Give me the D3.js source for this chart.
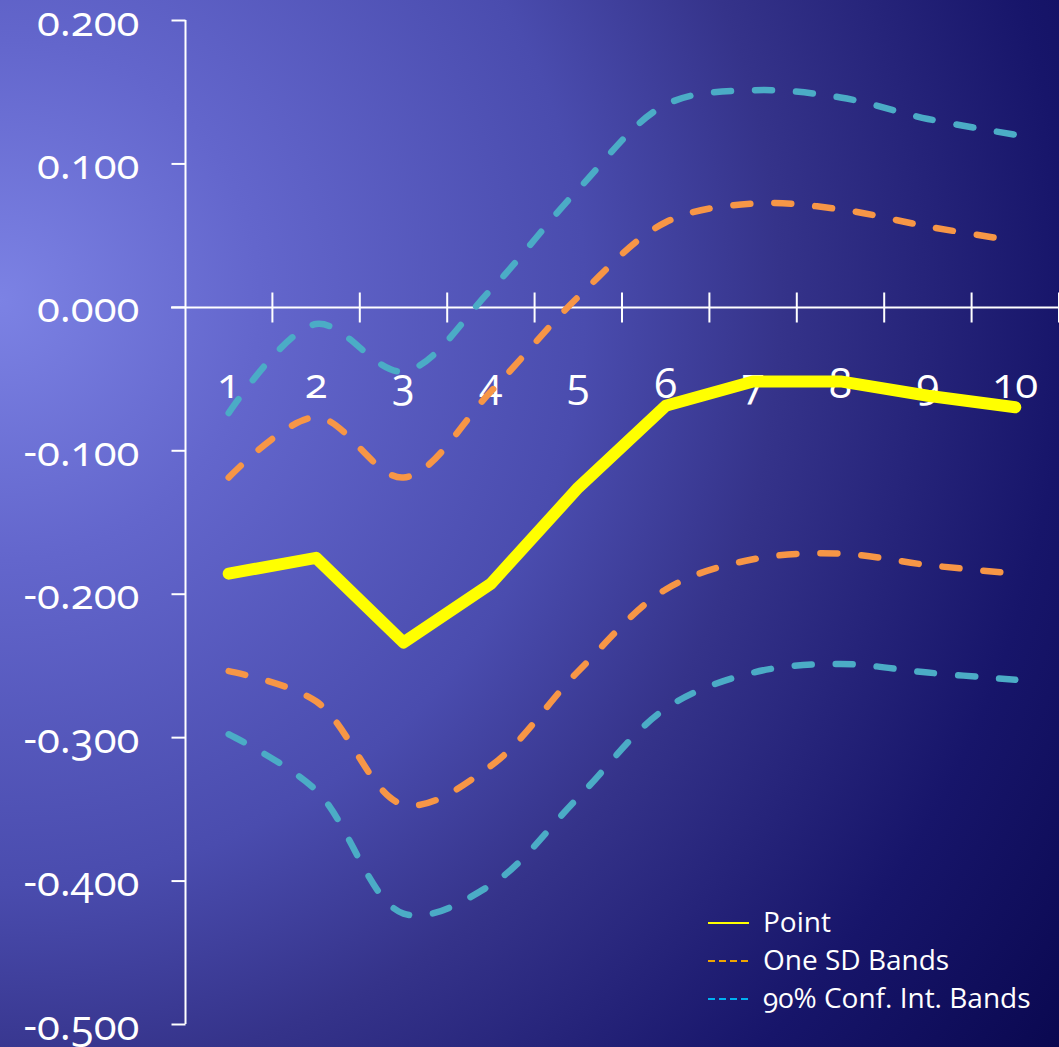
<!DOCTYPE html>
<html>
<head>
<meta charset="utf-8">
<script src="https://cdn.jsdelivr.net/npm/d3@7"></script>
<style>
  html, body { margin: 0; padding: 0; background: #0a0850; }
  svg { display: block; }
  text { font-family: "Open Sans", "Noto Sans", sans-serif; font-feature-settings: "onum" 1; font-variant-numeric: oldstyle-nums; fill: #ffffff; }
</style>
</head>
<body>
<svg id="chart" width="1059" height="1047"></svg>
<script>
// Horizon (periods) and the impulse response with its bands
const periods = ["1", "2", "3", "4", "5", "6", "7", "8", "9", "10"];
const point   = [-0.186, -0.175, -0.234, -0.193, -0.126, -0.069, -0.052, -0.052, -0.062, -0.070];
const sdUpper = [-0.119, -0.077, -0.119, -0.059, 0.007, 0.059, 0.072, 0.068, 0.056, 0.046];
const sdLower = [-0.254, -0.275, -0.347, -0.320, -0.254, -0.197, -0.176, -0.172, -0.180, -0.186];
const ciUpper = [-0.074, -0.012, -0.045, 0.012, 0.082, 0.141, 0.151, 0.146, 0.131, 0.120];
const ciLower = [-0.298, -0.337, -0.423, -0.403, -0.342, -0.280, -0.255, -0.249, -0.255, -0.260];
const yTicks  = [0.2, 0.1, 0.0, -0.1, -0.2, -0.3, -0.4, -0.5];
const legendItems = ["Point", "One SD Bands", "90% Conf. Int. Bands"];

const svg = d3.select("#chart");
const W = 1059, H = 1047;

// Background: radial glow from the left edge fading to deep navy
const defs = svg.append("defs");
const grad = defs.append("radialGradient")
  .attr("id", "bg").attr("gradientUnits", "userSpaceOnUse")
  .attr("cx", 0).attr("cy", 300).attr("r", 1300);
[[0, "#7c82e4"], [0.2, "#6366cc"], [0.45, "#4a4cae"], [0.6, "#35338a"], [0.82, "#17156a"], [1, "#0a0850"]]
  .forEach(([o, c]) => grad.append("stop").attr("offset", o).attr("stop-color", c));
svg.append("rect").attr("width", W).attr("height", H).attr("fill", "url(#bg)");

const x = d3.scaleBand().domain(periods).range([185, 1059]).padding(0);
const y = d3.scaleLinear().domain([-0.5, 0.2]).range([1024, 20]);
const cx = p => x(p) + x.bandwidth() / 2;

// Y axis
const yAxis = svg.append("g").attr("transform", "translate(185.5,0)")
  .call(d3.axisLeft(y).tickValues(yTicks).tickFormat(d => d.toFixed(3)).tickSize(14).tickPadding(32));
yAxis.select(".domain").attr("stroke", "#ffffff").attr("stroke-width", 2)
  .attr("d", `M0,${y(0.2)}V${y(-0.5)}`);
yAxis.selectAll(".tick line").attr("stroke", "#ffffff").attr("stroke-width", 2);
yAxis.selectAll(".tick text").attr("font-size", 42).attr("dy", "0.36em").attr("fill", "#ffffff");

// X axis along zero with crossing ticks at period boundaries
const zeroY = Math.round(y(0)) + 0.5;
svg.append("line").attr("x1", 171).attr("x2", W).attr("y1", zeroY).attr("y2", zeroY)
  .attr("stroke", "#ffffff").attr("stroke-width", 2);
svg.append("g").selectAll("line").data(periods).join("line")
  .attr("x1", p => x(p) + x.step()).attr("x2", p => x(p) + x.step())
  .attr("y1", zeroY - 15).attr("y2", zeroY + 15)
  .attr("stroke", "#ffffff").attr("stroke-width", 2);
svg.append("g").selectAll("text").data(periods).join("text")
  .attr("x", p => cx(p)).attr("y", zeroY + 90)
  .attr("text-anchor", "middle").attr("font-size", 42)
  .text(p => p);

// Series
const smooth = d3.line().x((d, i) => cx(periods[i])).y(d => y(d)).curve(d3.curveCatmullRom.alpha(0.5));
const straight = d3.line().x((d, i) => cx(periods[i])).y(d => y(d));

const bands = [
  { data: ciUpper, color: "#4bacc6" },
  { data: ciLower, color: "#4bacc6" },
  { data: sdUpper, color: "#f79646" },
  { data: sdLower, color: "#f79646" }
];
svg.append("g").selectAll("path").data(bands).join("path")
  .attr("d", b => smooth(b.data))
  .attr("fill", "none").attr("stroke", b => b.color).attr("stroke-width", 6.5)
  .attr("stroke-linecap", "round").attr("stroke-dasharray", "17,24");

svg.append("path").attr("d", straight(point))
  .attr("fill", "none").attr("stroke", "#ffff00").attr("stroke-width", 12)
  .attr("stroke-linecap", "round").attr("stroke-linejoin", "round");

// Legend
const legendStyles = [
  { color: "#ffff00", dash: null },
  { color: "#f0a400", dash: "7,4" },
  { color: "#00b0f0", dash: "7,4" }
];
const legend = svg.append("g").selectAll("g").data(legendItems).join("g")
  .attr("transform", (d, i) => `translate(708,${932 + i * 38})`);
legend.append("line").attr("x1", 0).attr("x2", 41).attr("y1", -9).attr("y2", -9)
  .attr("stroke", (d, i) => legendStyles[i].color).attr("stroke-width", 2)
  .attr("stroke-dasharray", (d, i) => legendStyles[i].dash);
legend.append("text").attr("x", 55).attr("y", 0).attr("font-size", 28).text(d => d);
</script>
</body>
</html>
